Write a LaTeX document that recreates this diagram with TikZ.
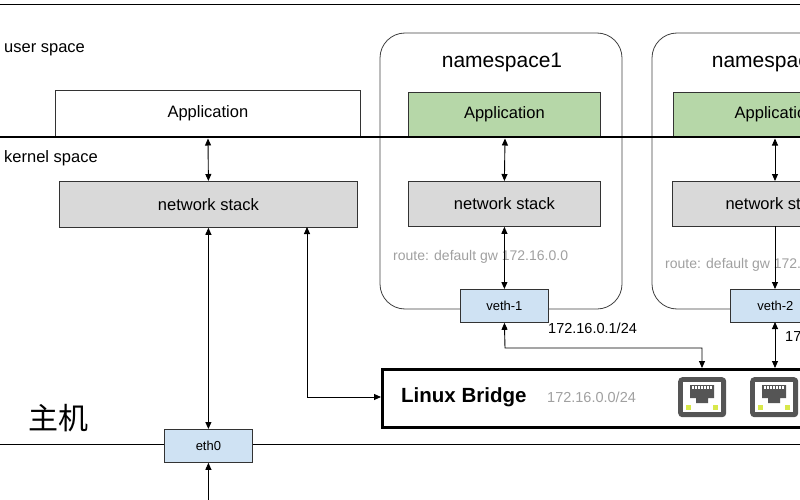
\documentclass[tikz,border=0pt]{standalone}
\usepackage{fontspec}
\setmainfont{Liberation Sans}
\newfontfamily\cjk{Noto Sans CJK SC}
\usetikzlibrary{arrows.meta}
\definecolor{grayfill}{HTML}{D9D9D9}
\definecolor{greenfill}{HTML}{B6D7A8}
\definecolor{bluefill}{HTML}{CFE2F3}
\definecolor{txtgray}{HTML}{A0A0A0}
\definecolor{portgray}{HTML}{555555}
\definecolor{ledc}{HTML}{D8E84A}
\begin{document}
\begin{tikzpicture}[x=1pt,y=-1pt,
  box/.style={draw=black!80,line width=0.8pt,inner sep=0pt,anchor=north west},
  txt/.style={inner sep=0pt,font=\fontsize{16.5}{19}\selectfont},
  small/.style={draw=black!80,line width=0.8pt,inner sep=0pt,anchor=north west,fill=bluefill,font=\fontsize{13}{15}\selectfont},
  lbl/.style={anchor=west,inner sep=0pt,font=\fontsize{16.5}{19}\selectfont},
  rt/.style={anchor=west,inner sep=0pt,text=txtgray,font=\fontsize{14}{16}\selectfont},
  dbl/.style={{Triangle[length=7pt,width=6pt]}-{Triangle[length=7pt,width=6pt]},line width=0.9pt},
  sgl/.style={-{Triangle[length=7pt,width=6pt]},line width=0.9pt},
  nsbox/.style={draw=black!75,line width=0.8pt,rounded corners=25pt}]
\useasboundingbox (0,0) rectangle (800,500);
\clip (0,0) rectangle (800,500);
% namespace outlines
\draw[nsbox] (380,33) rectangle (622,309);
\draw[nsbox] (652,33) rectangle (860,309);
\node[anchor=center,inner sep=0pt,font=\fontsize{21}{24}\selectfont] (ns1) at (502,62) {namespace1};
\node[anchor=center,inner sep=0pt,font=\fontsize{21}{24}\selectfont] (ns2) at (772,62) {namespace2};
% lines
\draw[line width=0.8pt] (0,4) -- (800,4);
\node[lbl] (us) at (4,50) {user space};
\node[lbl] (ks) at (4,158) {kernel space};
% host
\node[box,minimum width=305pt,minimum height=46pt] (happ) at (55,90) {};
\node[txt] (happt) at (happ.center) {Application};
\node[box,fill=grayfill,minimum width=298pt,minimum height=46pt] (hstack) at (59,181) {};
\node[txt] (hstt) at (hstack.center) {network stack};
% ns1
\node[box,fill=greenfill,minimum width=192pt,minimum height=44pt] (app1) at (408,92) {};
\node[txt] (app1t) at (app1.center) {Application};
\node[box,fill=grayfill,minimum width=192pt,minimum height=45pt] (st1) at (408,181) {};
\node[txt] (st1t) at (st1.center) {network stack};
\node[rt] (r1) at (393,257) {route: default gw 172.16.0.0};
\node[small,minimum width=88pt,minimum height=33pt] (v1) at (460,289) {veth-1};
\node[lbl,font=\fontsize{14.5}{16}\selectfont] (ip1) at (548,328) {172.16.0.1/24};
% ns2
\node[box,fill=greenfill,minimum width=150pt,minimum height=44pt] (app2) at (673,92) {};
\node[txt] (app2t) at (775,114) {Application};
\node[box,fill=grayfill,minimum width=150pt,minimum height=45pt] (st2) at (672,181) {};
\node[txt] (st2t) at (776,204) {network stack};
\node[rt] (r2) at (665,265) {route: default gw 172.16.0.0};
\node[small,minimum width=90pt,minimum height=33pt] (v2) at (730,289) {veth-2};
\node[lbl,font=\fontsize{14.5}{16}\selectfont] (ip2) at (785,336) {172.16.0.2/24};
% thick separator
\draw[line width=2.5pt] (0,137) -- (800,137);
% host line
\draw[line width=0.8pt] (0,444) -- (800,444);
\node[anchor=center,inner sep=0pt,font=\cjk\fontsize{30}{32}\selectfont] (zj) at (58,418) {主机};
\node[small,minimum width=88pt,minimum height=33pt] (eth) at (164,429) {eth0};
% bridge
\node[draw=black,line width=2.5pt,anchor=north west,minimum width=440pt,minimum height=58pt,inner sep=0pt] (br) at (381,368) {};
\node[anchor=west,inner sep=0pt,font=\bfseries\fontsize{20.5}{23}\selectfont] (brl) at (401,397) {Linux Bridge};
\node[anchor=west,inner sep=0pt,text=txtgray,font=\fontsize{14.5}{16}\selectfont] (brip) at (547,397) {172.16.0.0/24};
% ports
\foreach \px/\nm in {678/p1,750/p2}{
  \node[fill=portgray,rounded corners=4pt,minimum width=48pt,minimum height=40pt,anchor=north west,inner sep=0pt] (\nm) at (\px,377) {};
  \fill[white] (\px+5,382) rectangle (\px+43,412);
  \fill[portgray] (\px+12,385) -- (\px+36,385) -- (\px+36,398) -- (\px+30,398) -- (\px+30,403) -- (\px+18,403) -- (\px+18,398) -- (\px+12,398) -- cycle;
  \foreach \k in {0,...,6} \fill[white] (\px+14+\k*3,386) rectangle (\px+15.5+\k*3,389);
  \fill[ledc] (\px+8,405) rectangle (\px+13,410);
  \fill[ledc] (\px+35,405) rectangle (\px+40,410);
}
% arrows
\draw[dbl] (208,138.5) -- (hstack.north);
\draw[dbl] (hstack.south) -- (eth.north);
\coordinate (hb) at (307,227);
\draw[dbl] (hb) |- (br.west |- 0,397);
\draw[sgl] (eth.south) ++(0,40) coordinate (eb) -- (eth.south);
\draw[dbl] (505,138.5) -- (st1.north);
\draw[dbl] (st1.south) -- (v1.north);
\draw[dbl] (v1.south) -- (505,348) -| (702,368);
\draw[dbl] (775,138.5) -- (775,181);
\draw[sgl] (775,226) -- (v2.north -| 775,0);
\draw[dbl] (775,322) -- (775,368);
\end{tikzpicture}
\end{document}
